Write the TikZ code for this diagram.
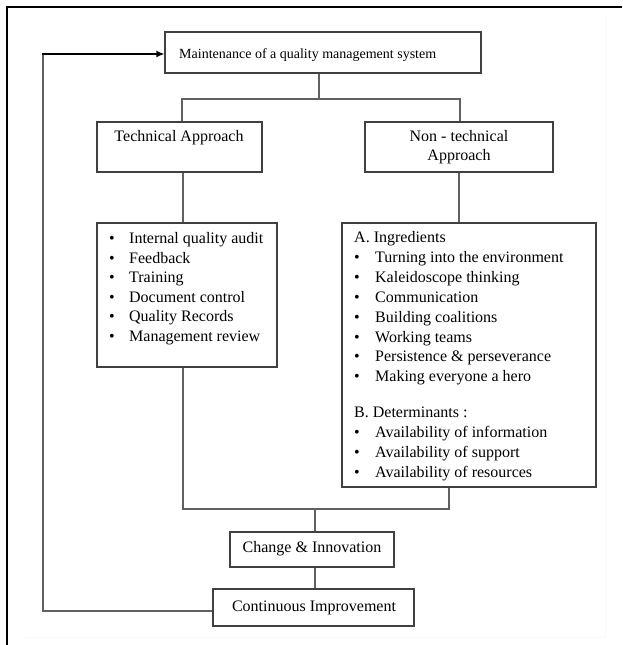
\documentclass[tikz,border=0pt]{standalone}
\usepackage{fontspec}
\setmainfont{Liberation Serif}
\usetikzlibrary{arrows.meta}
\begin{document}
\begin{tikzpicture}[x=1pt,y=-1pt,
  boxstyle/.style={draw=black!75,line width=1.2pt,fill=white,inner sep=0pt,rectangle},
  txt/.style={inner sep=0pt,font=\fontsize{16}{19.6}\selectfont},
  conn/.style={draw=black!62,line width=1.2pt},
  fbline/.style={draw=black,line width=1.5pt,-{Latex[length=8pt,width=7pt]}},
  framestyle/.style={draw=black,line width=2pt}
]
\useasboundingbox (0,0) rectangle (622,645);
% page frame
\draw[framestyle] (7,645) -- (7,7) -- (622,7);
\draw[draw=black!2.5,line width=0.8pt] (605,12) -- (605,637) -- (25,637);

% boxes
\node[boxstyle,minimum width=316pt,minimum height=41pt] (top) at (323,52.5) {};
\node[boxstyle,minimum width=165pt,minimum height=50pt] (tech) at (179.5,147) {};
\node[boxstyle,minimum width=188pt,minimum height=50pt] (nontech) at (459,147) {};
\node[boxstyle,minimum width=180pt,minimum height=144pt] (leftlist) at (187,295) {};
\node[boxstyle,minimum width=254pt,minimum height=264pt] (rightlist) at (469,355) {};
\node[boxstyle,minimum width=164pt,minimum height=35pt] (change) at (312,549.5) {};
\node[boxstyle,minimum width=201pt,minimum height=37pt] (cont) at (313.5,607.5) {};

% texts
\node[txt,font=\fontsize{14}{17}\selectfont,anchor=base west] (toptxt) at (179,58) {Maintenance of a quality management system};
\node[txt,anchor=base] (techtxt) at (179,141) {Technical Approach};
\node[txt,anchor=north,align=center,font=\fontsize{16}{19}\selectfont] (nontechtxt) at (459,130.2) {Non - technical\\Approach};
\node[txt,anchor=north west,align=left] (lefttxt) at (109,232.2) {%
\makebox[20pt][l]{\textbullet}Internal quality audit\\
\makebox[20pt][l]{\textbullet}Feedback\\
\makebox[20pt][l]{\textbullet}Training\\
\makebox[20pt][l]{\textbullet}Document control\\
\makebox[20pt][l]{\textbullet}Quality Records\\
\makebox[20pt][l]{\textbullet}Management review};
\node[txt,anchor=north west,align=left,font=\fontsize{16}{19.9}\selectfont] (righttxt) at (354,231.2) {%
A.\ Ingredients\\
\makebox[21pt][l]{\textbullet}Turning into the environment\\
\makebox[21pt][l]{\textbullet}Kaleidoscope thinking\\
\makebox[21pt][l]{\textbullet}Communication\\
\makebox[21pt][l]{\textbullet}Building coalitions\\
\makebox[21pt][l]{\textbullet}Working teams\\
\makebox[21pt][l]{\textbullet}Persistence \& perseverance\\
\makebox[21pt][l]{\textbullet}Making everyone a hero\\[16.1pt]
B. Determinants :\\
\makebox[21pt][l]{\textbullet}Availability of information\\
\makebox[21pt][l]{\textbullet}Availability of support\\
\makebox[21pt][l]{\textbullet}Availability of resources};
\node[txt,anchor=base] (changetxt) at (312,552) {Change \& Innovation};
\node[txt,anchor=base] (conttxt) at (314,611) {Continuous Improvement};

% junction coordinates
\coordinate (j1) at (319,99);
\coordinate (busL) at (182,99);
\coordinate (busR) at (460,99);
\coordinate (c1) at (183,0);
\coordinate (busB1) at (183,509);
\coordinate (busB2) at (449,509);
\coordinate (jB) at (315,509);
\coordinate (fb) at (43,611);
\coordinate (fbt) at (43,54);

% connectors
\draw[conn] (j1 |- top.south) -- (j1);
\draw[conn] (busL |- tech.north) -- (busL) -- (busR) -- (busR |- nontech.north);
\draw[conn] (c1 |- tech.south) -- (c1 |- leftlist.north);
\draw[conn] (nontech.south) -- (nontech.south |- rightlist.north);
\draw[conn] (busB1 |- leftlist.south) -- (busB1) -- (busB2) -- (busB2 |- rightlist.south);
\draw[conn] (jB) -- (jB |- change.north);
\draw[conn] (jB |- change.south) -- (jB |- cont.north);
\draw[conn] (cont.west |- fb) -- (fb) -- (fbt);
\draw[fbline] ([xshift=-0.6pt]fbt) -- (fbt -| top.west);
\end{tikzpicture}
\end{document}
